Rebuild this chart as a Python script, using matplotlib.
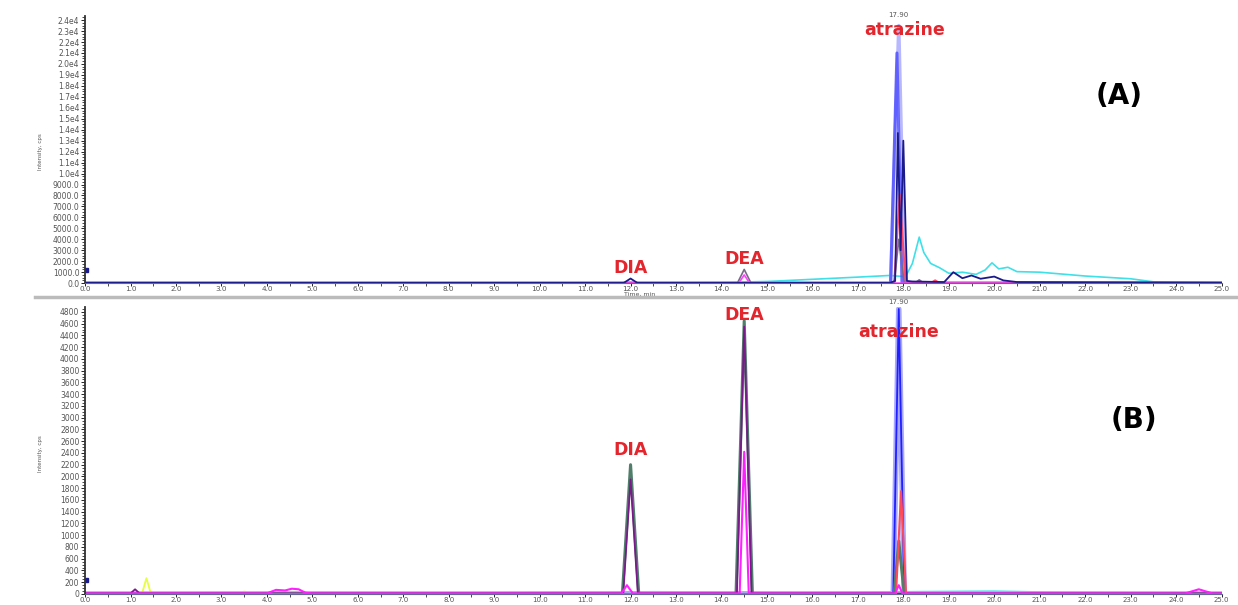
import matplotlib.pyplot as plt
from matplotlib.ticker import MultipleLocator, FixedLocator, FixedFormatter

# x ticks (min)
x_ticks = [float(i) for i in range(26)]

# panel A y ticks
a_ticks = [i * 1000 for i in range(25)]
a_tick_labels = ['0.0'] + ['%d.0' % v for v in a_ticks[1:10]] + ['%.1fe4' % (v / 10000) for v in a_ticks[10:]]

# panel B y ticks
b_ticks = [i * 200 for i in range(25)]

# ---- panel A traces (time, intensity) ----
a_cyan_t = [0, 10, 14, 15.0, 16.0, 17.0, 17.7, 17.85, 18.05, 18.2, 18.35, 18.45, 18.6, 18.8, 19.0, 19.3, 19.6, 19.8, 19.95, 20.1, 20.3, 20.5, 21.0, 22.0, 23.0, 23.5, 25]
a_cyan_y = [20, 30, 60, 150, 350, 550, 700, 650, 600, 1800, 4200, 2800, 1800, 1400, 900, 1000, 800, 1200, 1850, 1300, 1450, 1050, 1000, 650, 400, 120, 60]

a_navy_t = [0, 11.85, 12.0, 12.15, 17.7, 17.82, 17.88, 17.94, 18.0, 18.08, 18.2, 18.9, 19.1, 19.3, 19.5, 19.7, 20.0, 20.2, 20.5, 25]
a_navy_y = [30, 20, 420, 20, 20, 200, 13700, 3000, 13000, 200, 150, 100, 1000, 450, 700, 400, 600, 250, 100, 40]

a_blue_t = [0, 17.72, 17.86, 17.97, 25]
a_blue_y = [0, 0, 21000, 0, 0]

a_lblue_t = [0, 17.72, 17.9, 18.03, 25]
a_lblue_y = [0, 0, 23500, 0, 0]

a_red_t = [0, 17.8, 17.92, 18.05, 18.6, 18.7, 18.8, 25]
a_red_y = [0, 0, 8100, 0, 0, 250, 0, 0]

a_gray_t = [0, 14.35, 14.5, 14.65, 17.8, 17.9, 18.02, 18.25, 18.35, 18.45, 25]
a_gray_y = [0, 0, 1250, 0, 0, 4000, 0, 0, 300, 0, 0]

a_pink_t = [0, 14.38, 14.5, 14.62, 25]
a_pink_y = [0, 0, 750, 0, 0]

# ---- panel B traces ----
b_blue_t = [0, 17.78, 17.9, 18.02, 25]
b_blue_y = [0, 0, 4850, 0, 0]

b_red_t = [0, 17.84, 17.95, 18.06, 25]
b_red_y = [0, 0, 1750, 0, 0]

b_green_t = [0, 11.82, 12.0, 12.18, 14.32, 14.5, 14.68, 17.8, 17.9, 18.02, 25]
b_green_y = [0, 0, 2200, 0, 0, 4650, 0, 0, 900, 0, 0]

b_purple_t = [0, 1.0, 1.1, 1.2, 11.84, 12.0, 12.16, 14.34, 14.5, 14.66, 25]
b_purple_y = [10, 10, 80, 10, 10, 1950, 10, 10, 4550, 10, 10]

b_magenta_t = [0, 4.0, 4.2, 4.4, 4.55, 4.7, 4.85, 5.0, 11.8, 11.92, 12.05, 14.4, 14.5, 14.6, 17.82, 17.9, 17.98, 24.2, 24.5, 24.8, 25]
b_magenta_y = [10, 10, 70, 60, 90, 80, 20, 10, 10, 150, 10, 10, 2420, 10, 10, 150, 10, 10, 80, 10, 10]

b_yellow_t = [0, 1.25, 1.35, 1.45, 3.3, 3.5, 3.7, 25]
b_yellow_y = [0, 0, 270, 0, 0, 40, 0, 0]

b_cyan_t = [0, 5.0, 8.0, 12.5, 16.0, 20.0, 21.5, 25]
b_cyan_y = [20, 30, 20, 40, 30, 50, 30, 20]

fig = plt.figure(figsize=(12.38, 6.05), dpi=100)
axA = fig.add_axes([0.0687, 0.532, 0.918, 0.442])
axB = fig.add_axes([0.0687, 0.0182, 0.918, 0.474])


def style(ax, ymax):
    ax.set_xlim(0, 25)
    ax.set_ylim(0, ymax)
    for s in ['top', 'right']:
        ax.spines[s].set_visible(False)
    ax.spines['left'].set_color('#333333')
    ax.spines['bottom'].set_color('#666699')
    ax.spines['left'].set_linewidth(1.3)
    ax.xaxis.set_major_locator(FixedLocator(x_ticks))
    ax.set_xticklabels(['%.1f' % v for v in x_ticks])
    ax.xaxis.set_minor_locator(MultipleLocator(0.5))
    ax.tick_params(axis='both', labelsize=5.5, labelcolor='#555555', length=3, width=0.6, pad=1)
    ax.tick_params(axis='both', which='minor', length=2, width=0.5)


style(axA, 24400)
axA.yaxis.set_major_locator(FixedLocator(a_ticks))
axA.yaxis.set_major_formatter(FixedFormatter(a_tick_labels))
axA.yaxis.set_minor_locator(MultipleLocator(250))
axA.tick_params(axis='x', labelsize=5.2, length=2, pad=0)

style(axB, 4880)
axB.yaxis.set_major_locator(FixedLocator(b_ticks))
axB.set_yticklabels([str(v) for v in b_ticks])
axB.yaxis.set_minor_locator(MultipleLocator(50))
axB.tick_params(axis='x', labelsize=5, length=2, pad=0)

# panel A lines
axA.plot(a_cyan_t, a_cyan_y, color='#3fe0e8', lw=1.2)
axA.plot(a_lblue_t, a_lblue_y, color='#b8b8ff', lw=2.5)
axA.plot(a_blue_t, a_blue_y, color='#4a4aff', lw=2.2, alpha=0.8)
axA.plot(a_red_t, a_red_y, color='#ff4a6e', lw=1.5)
axA.plot(a_gray_t, a_gray_y, color='#7a6a8a', lw=1.2)
axA.plot(a_pink_t, a_pink_y, color='#ff40ff', lw=1.2)
axA.plot(a_navy_t, a_navy_y, color='#1a1a8a', lw=1.3)
axA.plot([0.02], [1200], marker='s', color='#1a1a8a', ms=3)

# panel B lines
axB.plot(b_cyan_t, b_cyan_y, color='#3fe0e8', lw=1.0)
axB.plot(b_yellow_t, b_yellow_y, color='#e6ff40', lw=1.3)
axB.plot(b_blue_t, b_blue_y, color='#a8a8ff', lw=4)
axB.plot(b_blue_t, b_blue_y, color='#2020ff', lw=1.3)
axB.plot(b_green_t, b_green_y, color='#4f7f6a', lw=2.2)
axB.plot(b_purple_t, b_purple_y, color='#7a1a8a', lw=1.3)
axB.plot(b_red_t, b_red_y, color='#ff4a5a', lw=1.5)
axB.plot(b_magenta_t, b_magenta_y, color='#ff20ff', lw=1.5)
axB.plot([0.02], [230], marker='s', color='#1a1a8a', ms=3)

# labels
red = '#e3262e'
lab = dict(color=red, fontsize=12.5, fontweight='bold', ha='center', va='bottom')
axA.text(12.0, 600, 'DIA', **lab)
axA.text(14.5, 1400, 'DEA', **lab)
axA.text(18.03, 22300, 'atrazine', **lab)
axA.text(17.9, 24200, '17.90', color='#555555', fontsize=5, ha='center', va='bottom')
axA.text(0.91, 0.70, '(A)', transform=axA.transAxes, fontsize=20, fontweight='bold', ha='center', va='center')
axA.text(12.2, -1050, 'Time, min', color='#555555', fontsize=4.5, ha='center', va='center')

axB.text(12.0, 2300, 'DIA', **lab)
axB.text(14.5, 4590, 'DEA', **lab)
axB.text(17.9, 4300, 'atrazine', **lab)
axB.text(17.9, 4920, '17.90', color='#555555', fontsize=5, ha='center', va='bottom')
axB.text(0.923, 0.607, '(B)', transform=axB.transAxes, fontsize=20, fontweight='bold', ha='center', va='center')

fig.text(0.033, 0.75, 'Intensity, cps', rotation=90, fontsize=4, color='#555555', ha='center', va='center')
fig.text(0.033, 0.25, 'Intensity, cps', rotation=90, fontsize=4, color='#555555', ha='center', va='center')

# separator line between the panels
fig.add_artist(plt.Line2D([0.028, 1.0], [0.509, 0.509], color='#bbbbbb', lw=2.5))

fig.savefig('out.png', dpi=100)
